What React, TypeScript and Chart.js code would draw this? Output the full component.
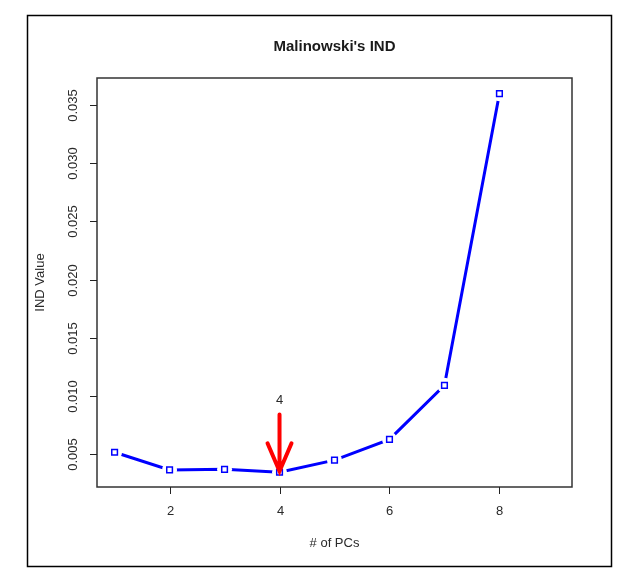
import React, { useEffect, useRef } from "react";
import { Chart, registerables } from "chart.js";

Chart.register(...registerables);

const pcs = [1, 2, 3, 4, 5, 6, 7, 8];
const indValues = [0.00514, 0.00362, 0.00367, 0.00342, 0.00446, 0.00625, 0.0109, 0.036];
const xTicks = [2, 4, 6, 8];
const yTicks = [0.005, 0.01, 0.015, 0.02, 0.025, 0.03, 0.035];
const yTickLabels = ["0.005", "0.010", "0.015", "0.020", "0.025", "0.030", "0.035"];
const titleText = "Malinowski's IND";
const xLabel = "# of PCs";
const yLabel = "IND Value";
const markedPC = 4;
const markedLabel = "4";
const arrowTopValue = 0.0084;
const markLabelValue = 0.0096;

const FONT = "'Liberation Sans', Arial, sans-serif";

export default function App() {
  const ref = useRef<HTMLCanvasElement | null>(null);

  useEffect(() => {
    const canvas = ref.current;
    if (!canvas) return;
    const pts = pcs.map((x, i) => ({ x, y: indValues[i] }));
    const markedIndex = pcs.indexOf(markedPC);

    const decor = {
      id: "decor",
      beforeDraw(chart: any) {
        const ctx = chart.ctx;
        ctx.save();
        ctx.fillStyle = "#ffffff";
        ctx.fillRect(0, 0, chart.width, chart.height);
        ctx.strokeStyle = "#000000";
        ctx.lineWidth = 1.5;
        ctx.strokeRect(27.5, 15.5, 584, 551);
        ctx.restore();
      },
      afterDatasetsDraw(chart: any) {
        const ctx = chart.ctx;
        const a = chart.chartArea;
        const xs = chart.scales.x;
        const ys = chart.scales.y;
        ctx.save();
        ctx.strokeStyle = "#333333";
        ctx.lineWidth = 1.5;
        ctx.strokeRect(a.left, a.top, a.right - a.left, a.bottom - a.top);
        ctx.lineWidth = 1;
        ctx.strokeStyle = "#222222";
        ctx.fillStyle = "#2a2a2a";
        ctx.font = `13px ${FONT}`;
        xTicks.forEach((v) => {
          const px = Math.round(xs.getPixelForValue(v)) + 0.5;
          ctx.beginPath();
          ctx.moveTo(px, a.bottom);
          ctx.lineTo(px, a.bottom + 7);
          ctx.stroke();
          ctx.textAlign = "center";
          ctx.textBaseline = "middle";
          ctx.fillText(String(v), px, 511);
        });
        yTicks.forEach((v, i) => {
          const py = Math.round(ys.getPixelForValue(v)) + 0.5;
          ctx.beginPath();
          ctx.moveTo(a.left, py);
          ctx.lineTo(a.left - 7, py);
          ctx.stroke();
          ctx.save();
          ctx.translate(73, py);
          ctx.rotate(-Math.PI / 2);
          ctx.textAlign = "center";
          ctx.textBaseline = "middle";
          ctx.fillText(yTickLabels[i], 0, 0);
          ctx.restore();
        });
        ctx.textAlign = "center";
        ctx.textBaseline = "middle";
        ctx.fillText(xLabel, (a.left + a.right) / 2, 543);
        ctx.save();
        ctx.translate(40, (a.top + a.bottom) / 2);
        ctx.rotate(-Math.PI / 2);
        ctx.fillText(yLabel, 0, 0);
        ctx.restore();
        ctx.fillStyle = "#1a1a1a";
        ctx.font = `bold 15px ${FONT}`;
        ctx.fillText(titleText, (a.left + a.right) / 2, 47);
        const ax = xs.getPixelForValue(markedPC);
        const tipY = ys.getPixelForValue(indValues[markedIndex]) - 1;
        const topY = ys.getPixelForValue(arrowTopValue);
        ctx.strokeStyle = "#ff0000";
        ctx.lineWidth = 4;
        ctx.lineCap = "round";
        ctx.beginPath();
        ctx.moveTo(ax, topY);
        ctx.lineTo(ax, tipY);
        ctx.moveTo(ax - 12, tipY - 28);
        ctx.lineTo(ax, tipY);
        ctx.lineTo(ax + 12, tipY - 28);
        ctx.stroke();
        ctx.fillStyle = "#2a2a2a";
        ctx.font = `13px ${FONT}`;
        ctx.fillText(markedLabel, ax, ys.getPixelForValue(markLabelValue));
        ctx.restore();
      },
    };

    const chart = new Chart(canvas, {
      type: "scatter",
      data: {
        datasets: [
          {
            data: pts,
            showLine: false,
            pointStyle: "rect",
            pointRadius: 4,
            pointBorderWidth: 1.5,
            pointBorderColor: "#0000ff",
            pointBackgroundColor: "#ffffff",
          },
          {
            data: pts,
            showLine: false,
            pointStyle: "circle",
            pointRadius: 7.5,
            pointBorderWidth: 0,
            pointBorderColor: "#ffffff",
            pointBackgroundColor: "#ffffff",
          },
          {
            data: pts,
            showLine: true,
            borderColor: "#0000ff",
            borderWidth: 3,
            pointRadius: 0,
            fill: false,
          },
        ],
      },
      options: {
        responsive: false,
        animation: false,
        events: [],
        layout: { padding: { left: 97, top: 78, right: 49, bottom: 89 } },
        plugins: { legend: { display: false }, tooltip: { enabled: false }, title: { display: false } },
        scales: {
          x: { type: "linear", display: false, min: 0.68, max: 9.32 },
          y: { type: "linear", display: false, min: 0.00215, max: 0.03735 },
        },
      },
      plugins: [decor],
    });
    return () => chart.destroy();
  }, []);

  return (
    <div style={{ position: "absolute", left: 0, top: 0, width: 621, height: 576 }}>
      <canvas ref={ref} width={621} height={576} style={{ display: "block", width: 621, height: 576 }} />
    </div>
  );
}
